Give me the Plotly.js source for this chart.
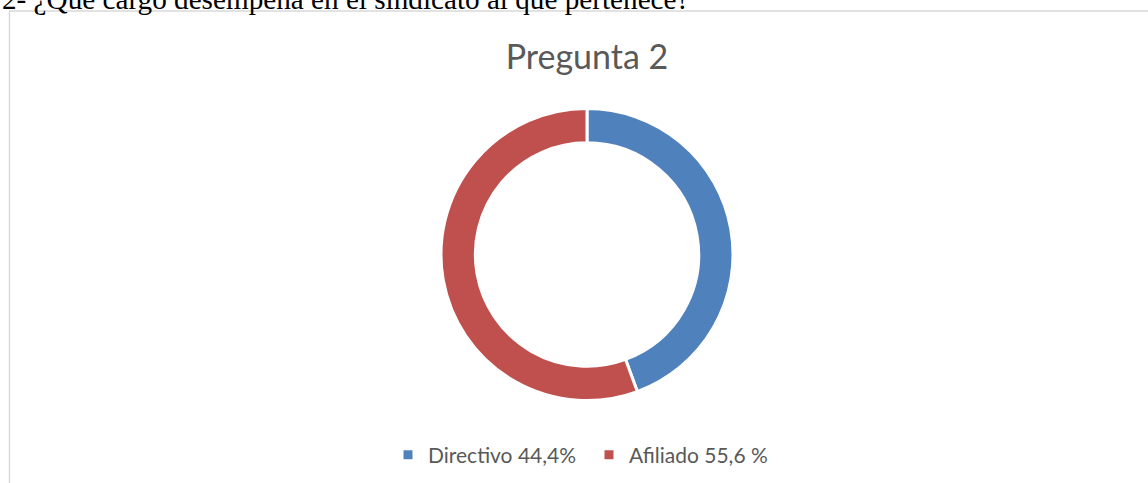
<!DOCTYPE html>
<html>
<head>
<meta charset="utf-8">
<script src="https://cdn.plot.ly/plotly-3.0.1.min.js"></script>
<style>html,body{margin:0;padding:0;background:#fff;}#chart{width:1148px;height:483px;}</style>
</head>
<body>
<div id="chart"></div>
<script>
const categories = ["Directivo 44,4%", "Afiliado 55,6 %"];
const values = [44.4, 55.6];
const colors = ["#4F81BD", "#C0504D"];
const chartTitle = "Pregunta 2";
const questionText = "2- ¿Qué cargo desempeña en el sindicato al que pertenece?";

const W = 1148, H = 483;
const cx = 587, cy = 254.5, R = 146;

const trace = {
  type: "pie",
  labels: categories,
  values: values,
  hole: 0.765,
  sort: false,
  direction: "clockwise",
  rotation: 0,
  textinfo: "none",
  hoverinfo: "label",
  marker: { colors: colors, line: { color: "#ffffff", width: 3 } },
  domain: { x: [(cx - R) / W, (cx + R) / W], y: [1 - (cy + R) / H, 1 - (cy - R) / H] }
};

const layout = {
  width: W, height: H,
  margin: { l: 0, r: 0, t: 0, b: 0 },
  paper_bgcolor: "#ffffff",
  plot_bgcolor: "#ffffff",
  title: {
    text: chartTitle,
    font: { family: "Lato, 'Open Sans', sans-serif", size: 34, color: "#595959" },
    x: cx / W, xanchor: "center",
    y: 1 - 57 / H, yanchor: "middle", yref: "container",
    automargin: false
  },
  showlegend: true,
  legend: {
    orientation: "h",
    x: (428 - 40) / W, xanchor: "left",
    y: 1 - 455 / H, yanchor: "middle",
    entrywidth: 156, entrywidthmode: "pixels",
    font: { family: "Lato, 'Open Sans', sans-serif", size: 21, color: "#595959" },
    itemclick: false, itemdoubleclick: false,
    traceorder: "normal"
  },
  shapes: [{
    type: "rect", xref: "paper", yref: "paper",
    x0: 9.5 / W, x1: 1.02, y0: -0.05, y1: 1 - 11 / H,
    line: { color: "#d9d9d9", width: 1.5 }, fillcolor: "rgba(0,0,0,0)", layer: "below"
  }],
  annotations: [{
    text: questionText, xref: "paper", yref: "paper",
    x: 0, xanchor: "left", y: 1 - 6 / H, yanchor: "bottom", yshift: -11,
    showarrow: false,
    font: { family: "'Liberation Serif', 'Times New Roman', serif", size: 29.2, color: "#000000" }
  }]
};

Plotly.newPlot("chart", [trace], layout, { displayModeBar: false, staticPlot: true });
</script>
</body>
</html>
